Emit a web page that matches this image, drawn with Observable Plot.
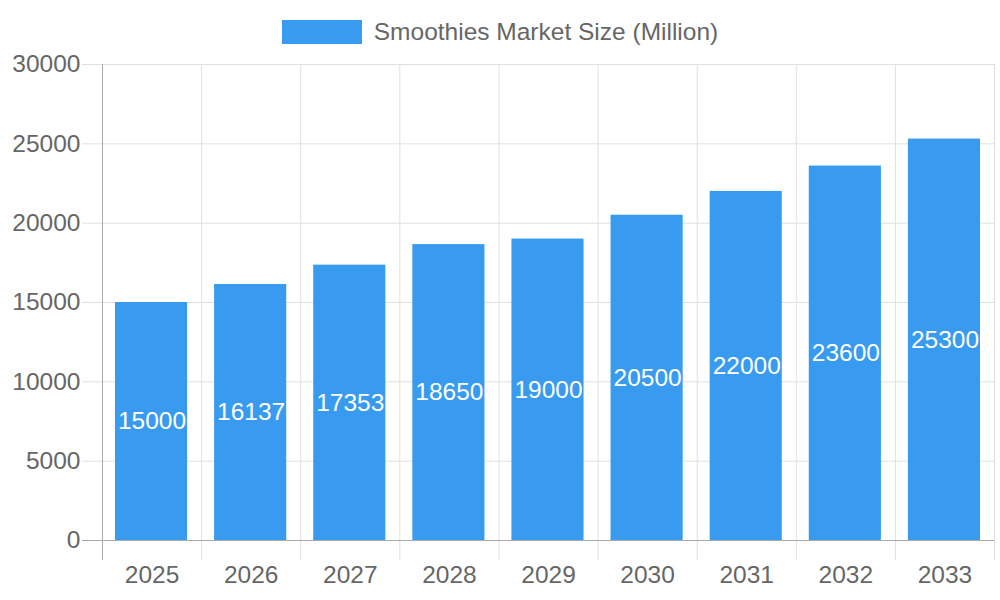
<!DOCTYPE html>
<html>
<head>
<meta charset="utf-8">
<script src="https://cdn.jsdelivr.net/npm/d3@7"></script>
<script src="https://cdn.jsdelivr.net/npm/@observablehq/plot@0.6"></script>
<style>
  html, body { margin: 0; padding: 0; background: #fff; width: 1000px; height: 600px; overflow: hidden; }
  body { font-family: "Liberation Sans", Arial, sans-serif; position: relative; }
  #legend { position: absolute; left: 0; top: 0; width: 1000px; height: 52px; box-sizing: border-box; padding-top: 20px; display: flex; justify-content: center; align-items: flex-start; z-index: 2; }
  #legend .sw { width: 80px; height: 24px; background: #389bef; margin-right: 12px; }
  #legend .lb { font-size: 24.5px; color: #666; line-height: 24px; }
  #chart svg { display: block; }
</style>
</head>
<body>
<div id="chart"></div>
<div id="legend"><div class="sw"></div><div class="lb">Smoothies Market Size (Million)</div></div>
<script>
const years = ["2025", "2026", "2027", "2028", "2029", "2030", "2031", "2032", "2033"];
const values = [15000, 16137, 17353, 18650, 19000, 20500, 22000, 23600, 25300];
const yTicks = [0, 5000, 10000, 15000, 20000, 25000, 30000];
const seriesName = "Smoothies Market Size (Million)";

const data = years.map((y, i) => ({i, year: y, value: values[i]}));
const boundaries = d3.range(years.length + 1);

const chart = Plot.plot({
  width: 1000,
  height: 600,
  marginTop: 64,
  marginBottom: 60,
  marginLeft: 102,
  marginRight: 6,
  style: {fontFamily: "Liberation Sans, Arial, sans-serif", fontSize: "24.5px", color: "#666", background: "#fff"},
  x: {domain: [0, years.length]},
  y: {domain: [0, 30000]},
  marks: [
    Plot.ruleY(yTicks.filter(v => v !== 0), {y: d => d, stroke: "#e0e0e0", strokeWidth: 1, insetLeft: -20}),
    Plot.ruleX(boundaries.filter(v => v !== 0), {x: d => d, y1: 30000, y2: 0, stroke: "#e0e0e0", strokeWidth: 1, insetBottom: -20}),
    Plot.rectY(data, {x1: d => d.i, x2: d => d.i + 1, y: "value", fill: "#389bef", insetLeft: 13, insetRight: 14}),
    Plot.ruleY([0], {stroke: "#aaaaaa", strokeWidth: 1, insetLeft: -20}),
    Plot.ruleX([0], {y1: 30000, y2: 0, stroke: "#aaaaaa", strokeWidth: 1, insetBottom: -20}),
    Plot.axisY({ticks: yTicks, tickSize: 0, tickPadding: 22, tickFormat: d => String(d), label: null, fill: "#666", fontSize: 24.5}),
    Plot.axisX({ticks: years.map((_, i) => i + 0.5), tickSize: 0, tickPadding: 25, tickFormat: v => years[Math.floor(v)], label: null, fill: "#666", fontSize: 24.5}),
    Plot.text(data, {x: d => d.i + 0.5, y: d => d.value / 2, text: d => String(d.value), fill: "#fff", fontSize: 24.5})
  ]
});
document.getElementById("chart").appendChild(chart);
</script>
</body>
</html>
